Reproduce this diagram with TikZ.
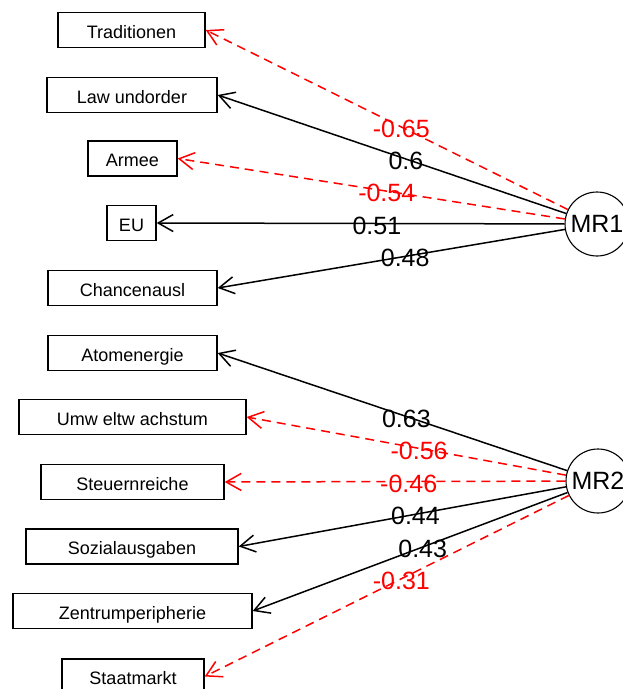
\documentclass[tikz,border=0pt]{standalone}
\usepackage{fontspec}
\setmainfont{Liberation Sans}
\usetikzlibrary{arrows.meta}

\begin{document}
\begin{tikzpicture}[
  x=1pt, y=-1pt,
  var/.style={rectangle, draw, line width=1.4pt, minimum height=35pt, inner sep=0pt, font=\fontsize{18}{20}\selectfont, text height=16pt, text depth=0pt},
  factor/.style={circle, draw, line width=1.1pt, minimum size=64pt, inner sep=0pt, font=\fontsize{25}{28}\selectfont},
  posload/.style={-{Straight Barb[length=15pt,width=17pt]}, line width=1.5pt},
  negload/.style={posload, red, dash pattern=on 9pt off 6pt},
  val/.style={pos=0.46, yshift=-2pt, inner sep=0pt, font=\fontsize{25}{28}\selectfont},
]
  \clip (0,0) rectangle (623,689);

  % Variables
  \node[var, minimum width=147pt] (trad) at (131.5,30) {Traditionen};
  \node[var, minimum width=170pt] (law) at (132,95) {Law undorder};
  \node[var, minimum width=89pt] (armee) at (132.5,158.5) {Armee};
  \node[var, minimum width=49pt] (eu) at (131.5,223) {EU};
  \node[var, minimum width=169pt] (chanc) at (132.5,288) {Chancenausl};
  \node[var, minimum width=169pt] (atom) at (132.5,353) {Atomenergie};
  \node[var, minimum width=227pt] (umwelt) at (132.5,417) {Umw eltw achstum};
  \node[var, minimum width=183pt] (steuer) at (132.5,482) {Steuernreiche};
  \node[var, minimum width=212pt] (sozial) at (132,546.5) {Sozialausgaben};
  \node[var, minimum width=239pt] (zentrum) at (132.5,611) {Zentrumperipherie};
  \node[var, minimum width=142pt] (staat) at (133,676.5) {Staatmarkt};

  % Factors
  \node[factor] (mr1) at (597,224) {MR1};
  \node[factor] (mr2) at (598,481) {MR2};

  % Loadings MR1
  \draw[negload] (mr1) -- node[val, red]{-0.65} (trad.east);
  \draw[posload] (mr1) -- node[val]{0.6} (law.east);
  \draw[negload] (mr1) -- node[val, red]{-0.54} (armee.east);
  \draw[posload] (mr1) -- node[val]{0.51} (eu.east);
  \draw[posload] (mr1) -- node[val]{0.48} (chanc.east);

  % Loadings MR2
  \draw[posload] (mr2) -- node[val]{0.63} (atom.east);
  \draw[negload] (mr2) -- node[val, red]{-0.56} (umwelt.east);
  \draw[negload] (mr2) -- node[val, red]{-0.46} (steuer.east);
  \draw[posload] (mr2) -- node[val]{0.44} (sozial.east);
  \draw[posload] (mr2) -- node[val]{0.43} (zentrum.east);
  \draw[negload] (mr2) -- node[val, red]{-0.31} (staat.east);
\end{tikzpicture}
\end{document}
